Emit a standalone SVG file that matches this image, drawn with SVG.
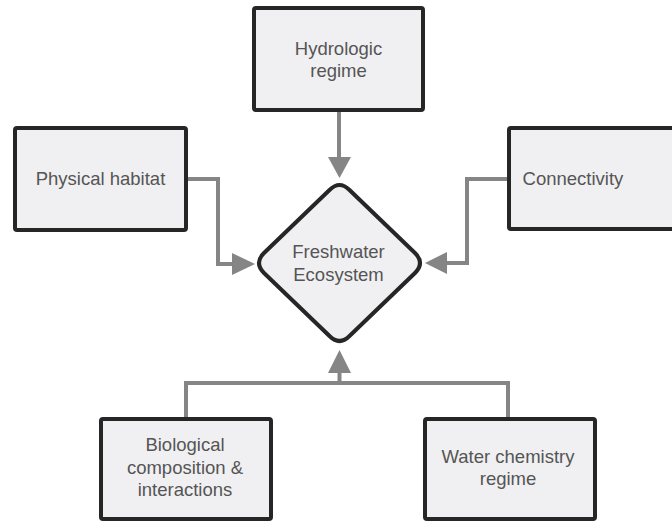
<svg xmlns="http://www.w3.org/2000/svg" width="672" height="523" viewBox="0 0 672 523">
  <style>
    .box { fill: #f0f0f2; stroke: #262626; stroke-width: 4; }
    .lbl { font-family: "Liberation Sans", Arial, sans-serif; font-size: 18.5px; fill: #555555; text-anchor: middle; }
    .conn { fill: none; stroke: #858585; stroke-width: 4; }
    .head { fill: #858585; }
  </style>
  <rect width="672" height="523" fill="#ffffff"/>
  <g id="connectors">
    <path class="conn" d="M339,111 V160"/>
    <polygon class="head" points="328,157 351,157 339.5,178"/>
    <path class="conn" d="M188,179 H218 V264 H235"/>
    <polygon class="head" points="232,253 232,275 255,264"/>
    <path class="conn" d="M507,179 H467 V263 H444"/>
    <polygon class="head" points="447,252 447,274 425,263"/>
    <path class="conn" d="M186,417 V383 H508 V417"/>
    <path class="conn" d="M339.5,383 V370"/>
    <polygon class="head" points="328,373 351,373 339.5,350"/>
  </g>
  <g id="hydrologic">
    <rect class="box" x="254" y="8" width="169" height="102" rx="2"/>
    <text class="lbl" x="338.5" y="55">Hydrologic</text>
    <text class="lbl" x="338.5" y="77">regime</text>
  </g>
  <g id="physical">
    <rect class="box" x="15" y="128" width="171" height="102" rx="2"/>
    <text class="lbl" x="100.5" y="185">Physical habitat</text>
  </g>
  <g id="connectivity">
    <rect class="box" x="509" y="128" width="175" height="101" rx="2"/>
    <text class="lbl" x="573" y="185">Connectivity</text>
  </g>
  <g id="freshwater">
    <path class="box" d="M329.5,190 Q339.5,180 349.5,190 L415,253 Q425,263 415,273 L349.5,336 Q339.5,346 329.5,336 L264,273 Q254,263 264,253 Z"/>
    <text class="lbl" x="338.5" y="258">Freshwater</text>
    <text class="lbl" x="338.5" y="281">Ecosystem</text>
  </g>
  <g id="biological">
    <rect class="box" x="101" y="419" width="170" height="100" rx="2"/>
    <text class="lbl" x="185" y="451">Biological</text>
    <text class="lbl" x="185" y="473.5">composition &amp;</text>
    <text class="lbl" x="185" y="496">interactions</text>
  </g>
  <g id="waterchem">
    <rect class="box" x="425" y="419" width="170" height="100" rx="2"/>
    <text class="lbl" x="508" y="463">Water chemistry</text>
    <text class="lbl" x="508" y="485">regime</text>
  </g>
</svg>
